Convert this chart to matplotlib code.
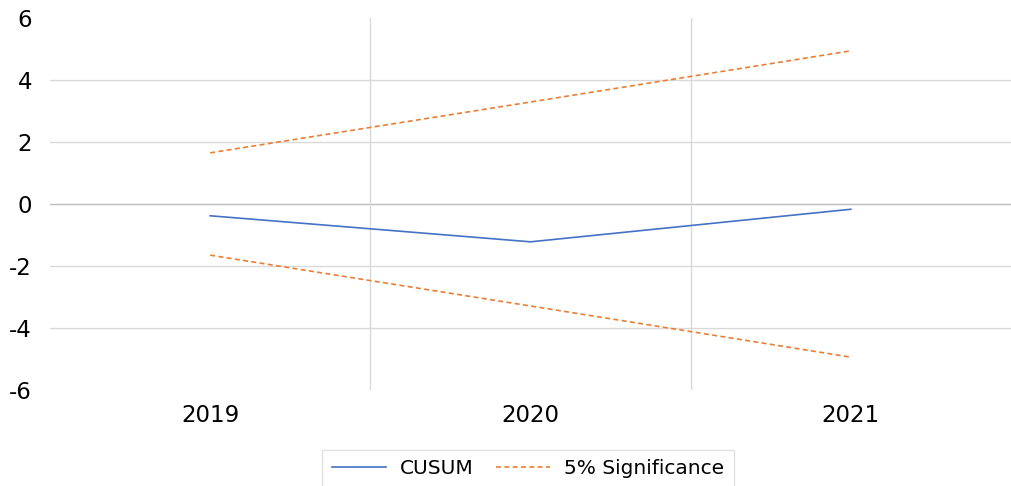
import matplotlib
matplotlib.use("Agg")
import matplotlib.pyplot as plt

years = ["2019", "2020", "2021"]
cusum = [-0.38, -1.22, -0.17]
upper = [1.65, 3.29, 4.94]
lower = [-1.65, -3.29, -4.94]
yticks = [-6, -4, -2, 0, 2, 4, 6]

plt.rcParams['font.family'] = ['DejaVu Sans']

fig = plt.figure(figsize=(10.11, 4.86), dpi=100)
ax = fig.add_axes([50/1011, 1-390/486, 961/1011, 372/486])

x = list(range(len(years)))
blue = "#4472C4"
orange = "#ED7D31"

for yv in yticks:
    if yv in (6, -6):
        continue
    ax.axhline(yv, color="#BFBFBF" if yv == 0 else "#D9D9D9", lw=1.0, zorder=0)
for b in [0.5, 1.5]:
    ax.axvline(b, color="#D9D9D9", lw=1.0, zorder=0)

ax.plot(x, cusum, color=blue, lw=1.2, label="CUSUM", zorder=3)
ax.plot(x, upper, color=orange, lw=1.2, linestyle=(0, (3, 2)), label="5% Significance", zorder=3)
ax.plot(x, lower, color=orange, lw=1.2, linestyle=(0, (3, 2)), zorder=3)

ax.set_xlim(-0.5, 2.5)
ax.set_ylim(-6, 6)
ax.set_yticks(yticks)
ax.set_yticklabels([str(v) for v in yticks])
ax.set_xticks(x)
ax.set_xticklabels(years)
ax.tick_params(axis='both', length=0, labelsize=16.5, colors="#000000")
ax.tick_params(axis='y', pad=13)
ax.tick_params(axis='x', pad=10)
for s in ax.spines.values():
    s.set_visible(False)

leg = fig.legend(loc="upper center", bbox_to_anchor=(528/1011, 1-450/486), ncol=2,
                 fontsize=14.5, frameon=True, fancybox=False, handlelength=2.7,
                 handletextpad=0.7, columnspacing=1.1, borderpad=0.45,
                 borderaxespad=0)
leg.get_frame().set_edgecolor("#D9D9D9")
leg.get_frame().set_linewidth(1.0)

fig.savefig("out.png", dpi=100)
